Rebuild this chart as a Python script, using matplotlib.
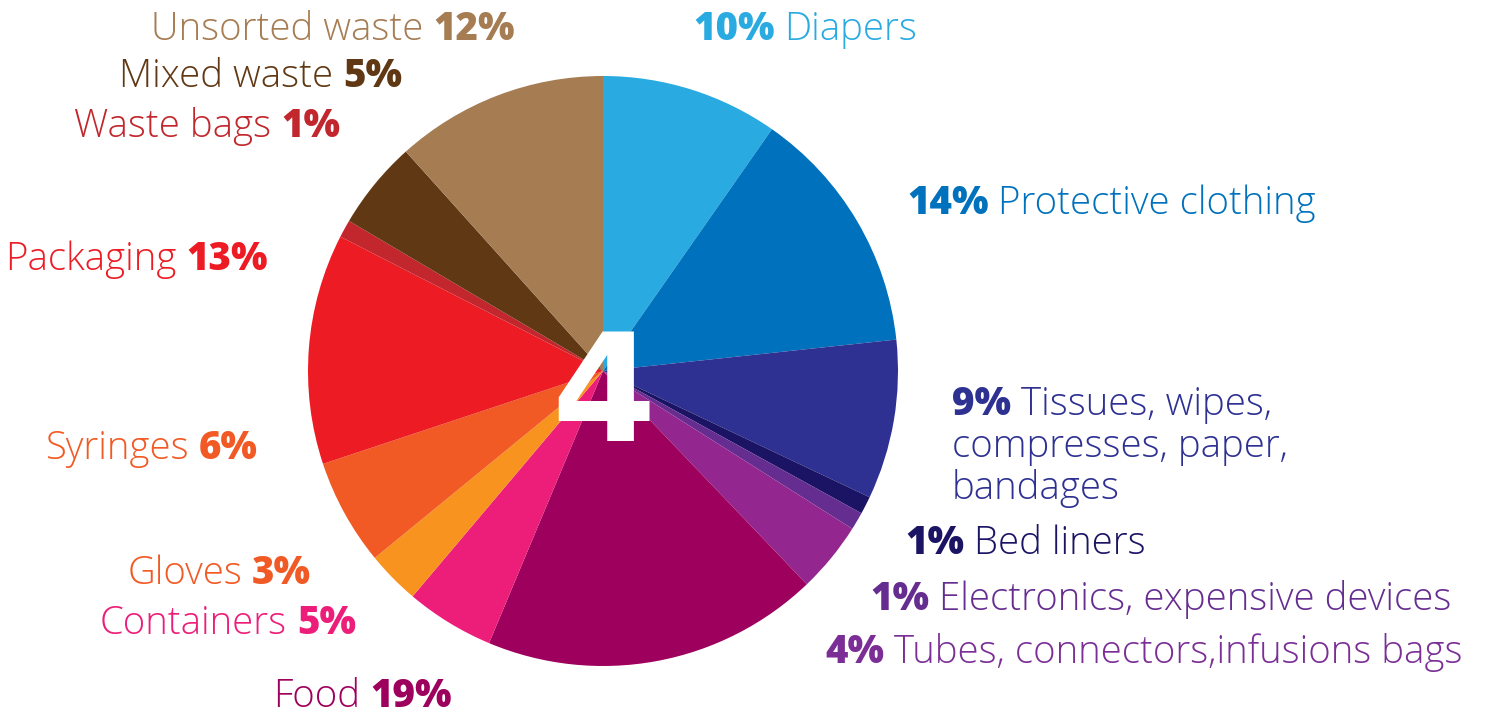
import matplotlib
matplotlib.use('Agg')
import matplotlib.pyplot as plt

# ---- data ----
categories = ["Diapers", "Protective clothing", "Tissues, wipes, compresses, paper, bandages",
              "Bed liners", "Electronics, expensive devices", "Tubes, connectors,infusions bags",
              "Food", "Containers", "Gloves", "Syringes", "Packaging", "Waste bags",
              "Mixed waste", "Unsorted waste"]
values = [10, 14, 9, 1, 1, 4, 19, 5, 3, 6, 13, 1, 5, 12]
pct_labels = ["10%", "14%", "9%", "1%", "1%", "4%", "19%", "5%", "3%", "6%", "13%", "1%", "5%", "12%"]
center_text = "4"

colors = ["#29ABE2", "#0071BC", "#2E3192", "#1B1464", "#662D91", "#93278F", "#9E005D",
          "#ED1E79", "#F7931E", "#F15A24", "#ED1C24", "#C1272D", "#603813", "#A67C52"]
label_colors = ["#29ABE2", "#0071BC", "#2E3192", "#1B1464", "#662D91", "#7B2F96", "#9E005D",
                "#ED1E79", "#F15A24", "#F15A24", "#ED1C24", "#C1272D", "#603813", "#A67C52"]

# ---- layout (pixel coords: x, baseline y, side) ----
label_pos = {
    0: (693, 40, 'L'), 1: (907, 214, 'L'), 2: (952, 415, 'L'), 3: (905, 554, 'L'),
    4: (870, 610, 'L'), 5: (825, 663, 'L'),
    6: (452, 707, 'R'), 7: (356, 634, 'R'), 8: (311, 584, 'R'), 9: (258, 459, 'R'),
    10: (268, 270, 'R'), 11: (340, 137, 'R'), 12: (402, 87, 'R'), 13: (515, 40, 'R'),
}

W, H = 1485, 714
DPI = 100
FS = 27.6
FAMILY = ['Open Sans', 'DejaVu Sans']
NAME_W = 300
PCT_W = 800

fig = plt.figure(figsize=(W / DPI, H / DPI), dpi=DPI)
ax = fig.add_axes([0, 0, 1, 1])
ax.pie(values, colors=colors, startangle=90, counterclock=False,
       center=(603, H - 371), radius=295, wedgeprops=dict(linewidth=0))
ax.set_xlim(0, W)
ax.set_ylim(0, H)
ax.set_aspect('equal')
ax.axis('off')

ax.text(603, H - 441, center_text, color='white', fontsize=108, fontweight='bold',
        family=['DejaVu Sans'], ha='center', va='baseline')

fig.canvas.draw()
renderer = fig.canvas.get_renderer()
gap = 0.26 * FS * DPI / 72


def width(t):
    return t.get_window_extent(renderer).width


for i, name in enumerate(categories):
    x, yb, side = label_pos[i]
    y = H - yb
    c = label_colors[i]
    first = "Tissues, wipes," if i == 2 else name
    if side == 'L':
        tb = ax.text(x, y, pct_labels[i], color=c, fontsize=FS, fontweight=PCT_W,
                     family=FAMILY, ha='left', va='baseline')
        wb = width(tb)
        ax.text(x + wb + gap, y, first, color=c, fontsize=FS, fontweight=NAME_W,
                family=FAMILY, ha='left', va='baseline')
        if i == 2:
            ax.text(x, y - 42, "compresses, paper,", color=c, fontsize=FS,
                    fontweight=NAME_W, family=FAMILY, ha='left', va='baseline')
            ax.text(x, y - 84, "bandages", color=c, fontsize=FS,
                    fontweight=NAME_W, family=FAMILY, ha='left', va='baseline')
    else:
        tb = ax.text(x, y, pct_labels[i], color=c, fontsize=FS, fontweight=PCT_W,
                     family=FAMILY, ha='right', va='baseline')
        wb = width(tb)
        ax.text(x - wb - gap, y, first, color=c, fontsize=FS, fontweight=NAME_W,
                family=FAMILY, ha='right', va='baseline')

fig.savefig('out.png', dpi=DPI, facecolor='white')
